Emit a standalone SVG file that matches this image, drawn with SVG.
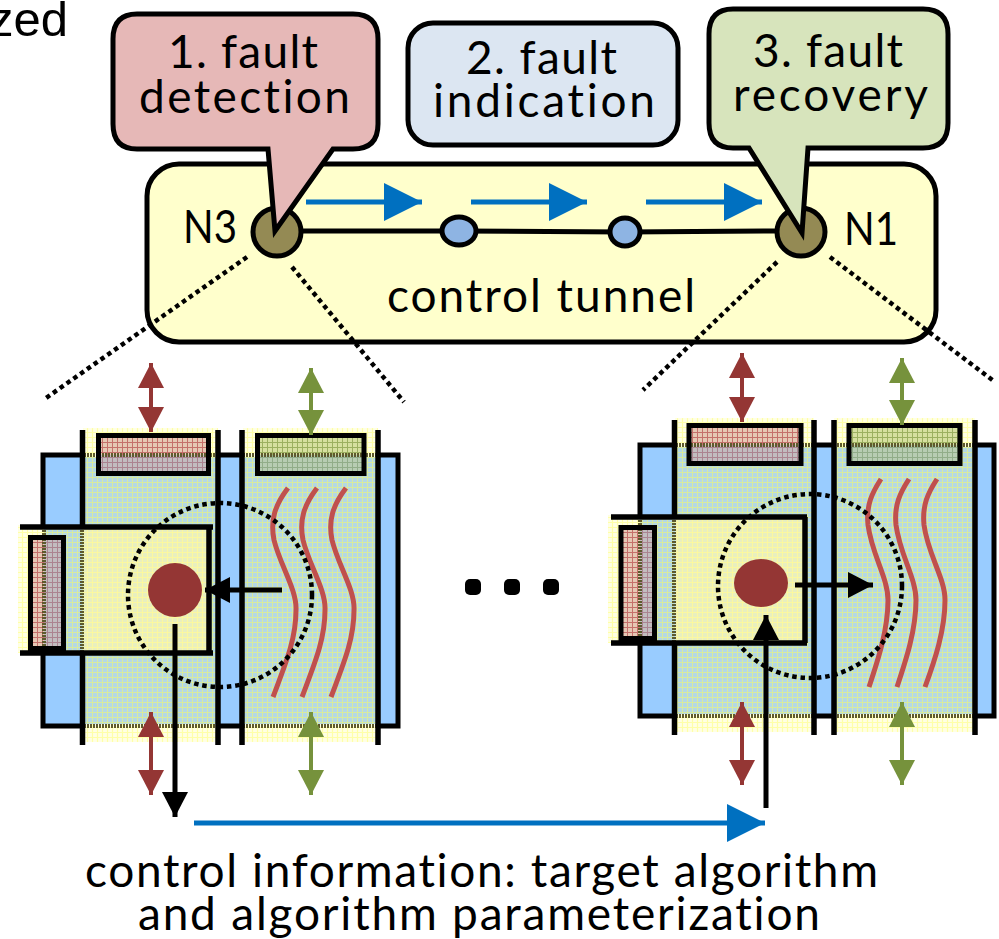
<svg xmlns="http://www.w3.org/2000/svg" width="999" height="939" viewBox="0 0 999 939">
<style>
text{font-family:Lato,"Open Sans",sans-serif;font-size:46px;fill:#000;text-anchor:start;font-variant-ligatures:none}
.k{fill:none;stroke:#000;stroke-width:5}
.bar{fill:none;stroke:#000;stroke-width:5.5}
.dot{fill:none;stroke:#000;stroke-width:4.5;stroke-dasharray:4.5 3.8}
.wave{fill:none;stroke:#c0504d;stroke-width:5}
.blue{fill:#99ccff;stroke:#000;stroke-width:5}
.box{fill:none;stroke:#000;stroke-width:5}
.seam{fill:none;stroke:#5e5a2e;stroke-width:4;stroke-dasharray:2 1}
.r{stroke:#943634;stroke-width:4;fill:none;marker-start:url(#mr);marker-end:url(#mr)}
.g{stroke:#76923c;stroke-width:4;fill:none;marker-start:url(#mg);marker-end:url(#mg)}
.a{stroke:#000;stroke-width:5;fill:none;marker-end:url(#mk)}
.b{stroke:#0070c0;stroke-width:5;fill:none;marker-end:url(#mb)}
</style>
<defs>
<pattern id="py" width="5" height="5" patternUnits="userSpaceOnUse"><rect width="5" height="5" fill="#ffffe4"/><path d="M0 2.5H5M2.5 0V5" stroke="#ffffa8" stroke-width="1.2"/></pattern>
<pattern id="py2" width="5" height="5" patternUnits="userSpaceOnUse"><rect width="5" height="5" fill="#e8efc0"/><path d="M0 2.5H5M2.5 0V5" stroke="#fbf8a0" stroke-width="1.2"/></pattern>
<pattern id="pt" width="5" height="5" patternUnits="userSpaceOnUse"><rect width="5" height="5" fill="#b4d8e4"/><path d="M0 2.5H5M2.5 0V5" stroke="#d8ea9e" stroke-width="1"/></pattern>
<pattern id="pr" width="5" height="5" patternUnits="userSpaceOnUse"><rect width="5" height="5" fill="#e6c8b4"/><path d="M0 2.5H5M2.5 0V5" stroke="#c4706a" stroke-width="1"/></pattern>
<pattern id="pg" width="5" height="5" patternUnits="userSpaceOnUse"><rect width="5" height="5" fill="#d6e0a0"/><path d="M0 2.5H5M2.5 0V5" stroke="#9cb060" stroke-width="1"/></pattern>
<marker id="mb" markerUnits="userSpaceOnUse" markerWidth="40" markerHeight="40" refX="38" refY="19" orient="auto"><path d="M0 0L38 19L0 38Z" fill="#0070c0"/></marker>
<marker id="mk" markerUnits="userSpaceOnUse" markerWidth="26" markerHeight="26" refX="25" refY="13" orient="auto"><path d="M0 0L25 13L0 26Z" fill="#000"/></marker>
<marker id="mr" markerUnits="userSpaceOnUse" markerWidth="26" markerHeight="26" refX="25" refY="13" orient="auto-start-reverse"><path d="M0 0L25 13L0 26Z" fill="#943634"/></marker>
<marker id="mg" markerUnits="userSpaceOnUse" markerWidth="26" markerHeight="26" refX="25" refY="13" orient="auto-start-reverse"><path d="M0 0L25 13L0 26Z" fill="#76923c"/></marker>
</defs>

<text x="68" y="36" style="font-family:'Liberation Sans',Arial,sans-serif;font-size:49px;text-anchor:end">zed</text>

<g id="tunnel">
<rect x="147" y="164" width="789" height="178" rx="32" fill="#ffffcc" stroke="#000" stroke-width="5"/>
<text x="183" y="243" textLength="54" lengthAdjust="spacingAndGlyphs">N3</text>
<text x="844" y="245" textLength="54" lengthAdjust="spacingAndGlyphs">N1</text>
<text x="387" y="312" textLength="308" lengthAdjust="spacing">control tunnel</text>
</g>

<g id="connectors-top">
<path d="M300 231L459 231L625 232L780 231" class="k"/>
<path d="M306 202H422" class="b"/>
<path d="M471 202H587" class="b"/>
<path d="M646 202H762" class="b"/>
<path d="M247 257L46 398M292 267L404 402M777 262L643 390M830 257L995 382" class="dot"/>
</g>

<g id="node-n3"><circle cx="277" cy="232" r="24" fill="#948a54" stroke="#000" stroke-width="5"/></g>
<g id="node-m1"><ellipse cx="459" cy="231" rx="17" ry="14" fill="#8eb4e3" stroke="#000" stroke-width="5"/></g>
<g id="node-m2"><ellipse cx="625" cy="232" rx="15" ry="14" fill="#8eb4e3" stroke="#000" stroke-width="5"/></g>
<g id="node-n1"><circle cx="801" cy="232" r="24" fill="#948a54" stroke="#000" stroke-width="5"/></g>

<g id="callout-1">
<path d="M137 14H353Q378 14 378 39V124Q378 149 353 149H333L275 231L268 149H137Q113 149 113 124V39Q113 14 137 14Z" fill="#e6b8b7" stroke="#000" stroke-width="5"/>
<text x="168" y="68" textLength="150" lengthAdjust="spacing">1. fault</text>
<text x="139" y="113" textLength="211" lengthAdjust="spacing">detection</text>
</g>
<g id="callout-2">
<rect x="408" y="23" width="270" height="122" rx="25" fill="#dce6f2" stroke="#000" stroke-width="5"/>
<text x="466" y="74" textLength="151" lengthAdjust="spacing">2. fault</text>
<text x="433" y="117" textLength="222" lengthAdjust="spacing">indication</text>
</g>
<g id="callout-3">
<path d="M733 9H923Q948 9 948 34V123Q948 148 923 148H808L802 233L749 148H733Q709 148 709 123V34Q709 9 733 9Z" fill="#d7e4bc" stroke="#000" stroke-width="5"/>
<text x="753" y="67" textLength="150" lengthAdjust="spacing">3. fault</text>
<text x="733" y="111" textLength="195" lengthAdjust="spacing">recovery</text>
</g>

<g id="chip-left">
<rect x="43" y="455" width="355" height="271" class="blue"/>
<rect x="83" y="428" width="135" height="314" fill="url(#py)"/>
<rect x="243" y="428" width="135" height="314" fill="url(#py)"/>
<rect x="83" y="457" width="135" height="267" fill="url(#pt)"/>
<rect x="243" y="457" width="135" height="267" fill="url(#pt)"/>
<rect x="18" y="525" width="26" height="128" fill="url(#py)"/>
<rect x="44" y="525" width="39" height="128" fill="url(#pt)"/>
<rect x="83" y="525" width="126" height="128" fill="url(#py2)"/>
<rect x="98.500" y="435.500" width="110" height="38" fill="url(#pr)"/>
<rect x="257.500" y="435.500" width="106.500" height="38" fill="url(#pg)"/>
<rect x="30.500" y="537.500" width="33" height="111" fill="url(#pr)"/>
<path d="M98.500 455H208.500V473.500H98.500ZM257.500 455H364V473.500H257.500ZM44 537.500H63.500V648.500H44Z" fill="#7fa8d8" fill-opacity=".35"/>
<path d="M84 455H218M243 455H378M84 726H218M243 726H378M44 527V653M82 527V653" class="seam"/>
<rect x="98.500" y="435.500" width="110" height="38" class="box"/>
<rect x="257.500" y="435.500" width="106.500" height="38" class="box"/>
<rect x="30.500" y="537.500" width="33" height="111" class="box"/>
<path d="M82.500 430V527M82.500 653V745M218 430V745M242 430V745M378 430V745" class="bar"/>
<path d="M20 527H213M209 527V653M20 653H213" class="bar"/>
<path d="M288 488C275 505 270 520 274 540C280 565 297 590 296 610C296 640 285 665 273 697M317 488C304 505 299 520 303 540C309 565 326 590 325 610C325 640 314 665 302 697M346 488C333 505 328 520 332 540C338 565 355 590 354 610C354 640 343 665 331 697" class="wave"/>
<circle cx="220" cy="595" r="92" class="dot"/>
<circle cx="175" cy="590" r="27" fill="#943634"/>
</g>

<g id="chip-right">
<rect x="640" y="445" width="354" height="271" class="blue"/>
<rect x="675" y="418" width="139" height="314" fill="url(#py)"/>
<rect x="834" y="418" width="141" height="314" fill="url(#py)"/>
<rect x="675" y="447" width="139" height="267" fill="url(#pt)"/>
<rect x="834" y="447" width="141" height="267" fill="url(#pt)"/>
<rect x="608" y="515" width="32" height="128" fill="url(#py)"/>
<rect x="640" y="515" width="35" height="128" fill="url(#pt)"/>
<rect x="675" y="515" width="130" height="128" fill="url(#py2)"/>
<rect x="689" y="425.500" width="112" height="38" fill="url(#pr)"/>
<rect x="849" y="425.500" width="111" height="38" fill="url(#pg)"/>
<rect x="621" y="527.500" width="33.500" height="111" fill="url(#pr)"/>
<path d="M689 445H801V463.500H689ZM849 445H960V463.500H849ZM640 527.500H654.500V638.500H640Z" fill="#7fa8d8" fill-opacity=".35"/>
<path d="M676 445H814M834 445H975M676 716H814M834 716H975M640 517V643M674 517V643" class="seam"/>
<rect x="689" y="425.500" width="112" height="38" class="box"/>
<rect x="849" y="425.500" width="111" height="38" class="box"/>
<rect x="621" y="527.500" width="33.500" height="111" class="box"/>
<path d="M674.500 420V517M674.500 643V735M814 420V735M834 420V735M975 420V735" class="bar"/>
<path d="M611 517H807M805 517V643M611 643H807" class="bar"/>
<path d="M881 479C872 493 866 505 868 525C872 555 888 578 888 600C888 630 878 660 869 687M909 479C900 493 894 505 896 525C900 555 916 578 916 600C916 630 906 660 897 687M937 479C928 493 922 505 924 525C928 555 945 578 945 600C945 630 935 660 925 687" class="wave"/>
<circle cx="810" cy="586" r="92" class="dot"/>
<ellipse cx="761" cy="583" rx="27" ry="24" fill="#943634"/>
</g>

<g id="connectors-bottom">
<path d="M151 432V363" class="r"/>
<path d="M311 435V368" class="g"/>
<path d="M742 422V353" class="r"/>
<path d="M902 425V358" class="g"/>
<path d="M151 795V712" class="r"/>
<path d="M311 795V712" class="g"/>
<path d="M742 785V702" class="r"/>
<path d="M902 785V702" class="g"/>
<path d="M282 590H205" class="a"/>
<path d="M175 624V817" class="a"/>
<path d="M795 585H873" class="a"/>
<path d="M766 808V615" class="a"/>
<path d="M194 823H765" class="b"/>
</g>

<g id="ellipsis"><rect x="465" y="579" width="16" height="16" rx="5"/><rect x="504" y="579" width="16" height="16" rx="5"/><rect x="543" y="579" width="16" height="16" rx="5"/></g>

<g id="caption">
<text x="85" y="887" textLength="793" lengthAdjust="spacing">control information: target algorithm</text>
<text x="138" y="930" textLength="682" lengthAdjust="spacing">and algorithm parameterization</text>
</g>
</svg>
